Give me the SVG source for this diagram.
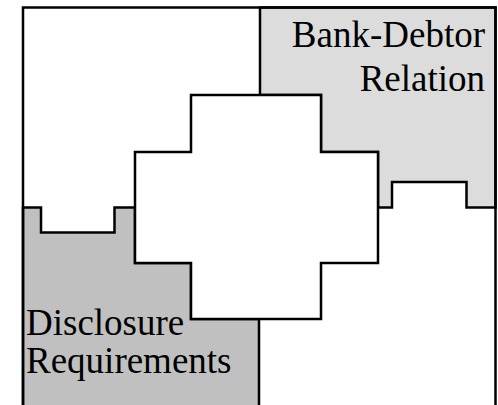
<svg xmlns="http://www.w3.org/2000/svg" width="498" height="405" viewBox="0 0 498 405">
  <style>
    .edge { stroke: #000; stroke-width: 2.5; stroke-linejoin: miter; stroke-linecap: square; }
    .label { font-family: "Liberation Serif", "Times New Roman", serif; font-size: 37px; fill: #000; }
  </style>
  <rect width="498" height="405" fill="#fff"/>

  <!-- upper-right region -->
  <g id="bank-debtor">
    <polygon class="edge" fill="#dcdcdc" points="260,7.5 495.5,7.5 495.5,207.5 466.5,207.5 466.5,182 392,182 392,207.5 378,207.5 378,152 321,152 321,95 260,95"/>
    <text class="label" x="485" y="46.5" text-anchor="end">Bank-Debtor</text>
    <text class="label" x="485" y="91" text-anchor="end">Relation</text>
  </g>

  <!-- lower-left region -->
  <g id="disclosure">
    <polygon class="edge" fill="#c0c0c0" points="23,207.5 41,207.5 41,232.5 114.5,232.5 114.5,207.5 135,207.5 135,263 191,263 191,319 259,319 259,407 23,407"/>
    <text class="label" x="26" y="335">Disclosure</text>
    <text class="label" x="26" y="373">Requirements</text>
  </g>

  <!-- central cross -->
  <g id="core">
    <polygon class="edge" fill="#fff" points="191,95 321,95 321,152 378,152 378,263 321,263 321,319 191,319 191,263 135,263 135,152 191,152"/>
  </g>

  <!-- outer frame, open at the bottom -->
  <g id="frame">
    <path class="edge" fill="none" d="M23,407 V7.5 H495.5 V407"/>
  </g>
</svg>
